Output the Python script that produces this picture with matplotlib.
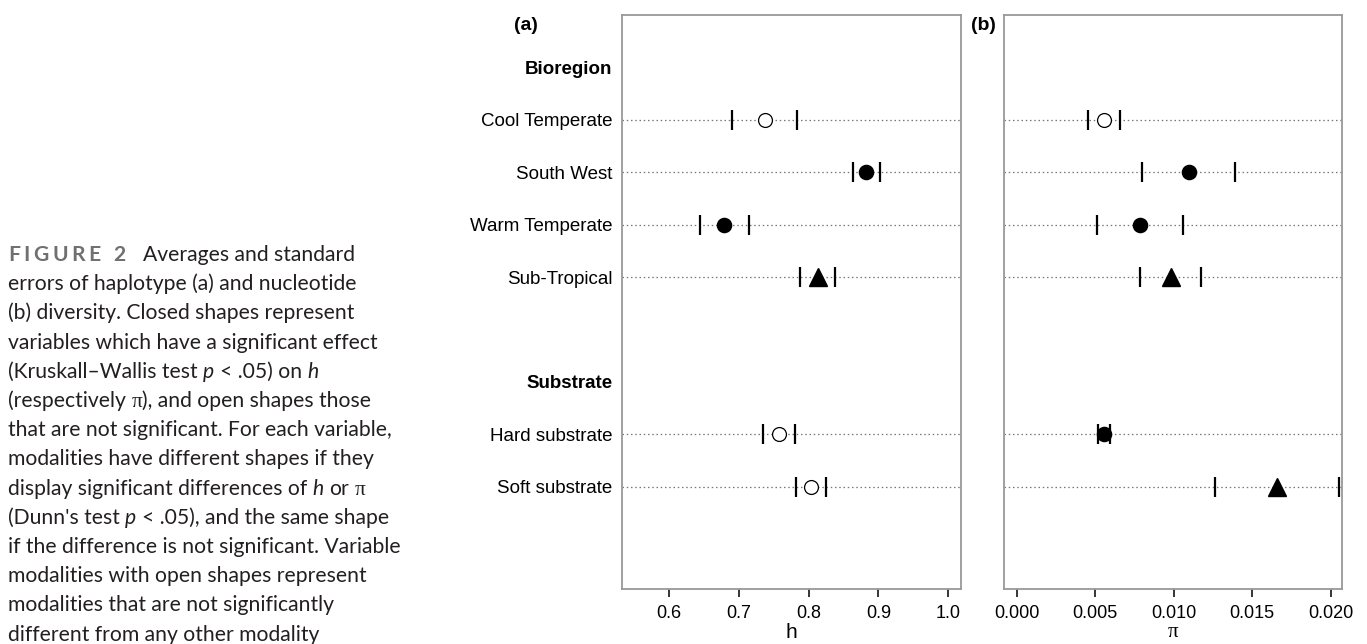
import numpy as np
import matplotlib
matplotlib.use("Agg")
import matplotlib.pyplot as plt

# rows (top to bottom)
row_labels = ["Bioregion", "Cool Temperate", "South West", "Warm Temperate", "Sub-Tropical",
              "Substrate", "Hard substrate", "Soft substrate"]
row_pos = [1, 2, 3, 4, 5, 7, 8, 9]
headers = ["Bioregion", "Substrate"]
mods = ["Cool Temperate", "South West", "Warm Temperate", "Sub-Tropical",
        "Hard substrate", "Soft substrate"]
mod_pos = [2, 3, 4, 5, 8, 9]

# haplotype diversity h: mean, lower, upper
h_mean = [0.737, 0.882, 0.679, 0.813, 0.758, 0.803]
h_low = [0.690, 0.863, 0.645, 0.788, 0.735, 0.782]
h_high = [0.783, 0.902, 0.714, 0.838, 0.780, 0.825]
h_shape = ["open", "fill", "fill", "tri", "open", "open"]

# nucleotide diversity pi
pi_mean = [0.00556, 0.01095, 0.00788, 0.00981, 0.00554, 0.01656]
pi_low = [0.00454, 0.00798, 0.00514, 0.00785, 0.00516, 0.01265]
pi_high = [0.00656, 0.01392, 0.01057, 0.01174, 0.00594, 0.02051]
pi_shape = ["open", "fill", "fill", "tri", "fill", "tri"]

h_ticks = [0.6, 0.7, 0.8, 0.9, 1.0]
pi_ticks = [0.000, 0.005, 0.010, 0.015, 0.020]

W, H = 1367, 644
fig = plt.figure(figsize=(W / 100, H / 100), dpi=100)
font = "Liberation Sans"

ax1 = fig.add_axes([622 / W, 1 - 589 / H, 338.7 / W, 574 / H])
ax2 = fig.add_axes([1004.3 / W, 1 - 589 / H, 338 / W, 574 / H])


def panel(ax, mean, low, high, shape, xlim, ticks, ticklabels, xlabel, xfont):
    for y in mod_pos:
        ax.axhline(y, color="#777777", lw=0.9, ls=(0, (1.2, 2.2)), zorder=1)
    for m, lo, hi, s, y in zip(mean, low, high, shape, mod_pos):
        ax.plot([lo, hi], [y, y], ls="none", marker="|", ms=14, mew=1.6,
                color="black", zorder=2)
        if s == "open":
            ax.plot(m, y, "o", ms=10, mfc="white", mec="black", mew=0.9, zorder=3)
        elif s == "fill":
            ax.plot(m, y, "o", ms=10.2, mfc="black", mec="black", zorder=3)
        else:
            ax.plot(m, y, "^", ms=12.5, mfc="black", mec="black", zorder=3)
    ax.set_xlim(*xlim)
    ax.set_ylim(10.95, 0)
    ax.set_xticks(ticks)
    ax.set_xticklabels(ticklabels, fontsize=13, family=font)
    ax.tick_params(axis="x", length=5.5, width=1.1, pad=6, color="black")
    ax.set_xlabel(xlabel, fontsize=15, family=xfont, labelpad=1)
    for sp in ax.spines.values():
        sp.set_color("#999999")
        sp.set_linewidth(1.3)


panel(ax1, h_mean, h_low, h_high, h_shape, (0.5327, 1.0178), h_ticks,
      ["%.1f" % t for t in h_ticks], "h", font)
panel(ax2, pi_mean, pi_low, pi_high, pi_shape, (-0.00079, 0.02074), pi_ticks,
      ["%.3f" % t for t in pi_ticks], "π", "Liberation Serif")

ax1.set_yticks(row_pos)
ax1.set_yticklabels(row_labels, fontsize=13.5, family=font)
for lab in ax1.get_yticklabels():
    if lab.get_text() in headers:
        lab.set_fontweight("bold")
ax1.tick_params(axis="y", length=0, pad=7)
ax2.set_yticks([])

fig.text(525.5 / W, 1 - 25 / H, "(a)", fontsize=14, fontweight="bold",
         family=font, ha="center", va="center")
fig.text(983 / W, 1 - 25 / H, "(b)", fontsize=14, fontweight="bold",
         family=font, ha="center", va="center")

# caption
renderer = fig.canvas.get_renderer()
cap_size = 15.2
cap_col = "#231f20"
base = dict(fontsize=cap_size, family=["Lato", "DejaVu Sans"], color=cap_col, va="baseline")
ital = dict(base, style="italic")
pis = dict(base, family=["Liberation Serif"])


def width_of(s, style):
    t = fig.text(0, 0, s, **style)
    w = t.get_window_extent(renderer).width
    t.remove()
    return w


space_w = width_of("x x", base) - width_of("xx", base)


def draw_line(x, y, segments):
    for s, st in segments:
        if s == " ":
            x += space_w
            continue
        t = fig.text(x / W, 1 - y / H, s, **st)
        x += t.get_window_extent(renderer).width


S = (" ", None)
x0 = 8
lines = [
    [("errors of haplotype (a) and nucleotide", base)],
    [("(b) diversity. Closed shapes represent", base)],
    [("variables which have a significant effect", base)],
    [("(Kruskall–Wallis test", base), S, ("p", ital), S, ("< .05) on", base), S, ("h", ital)],
    [("(respectively", base), S, ("π", pis), ("), and open shapes those", base)],
    [("that are not significant. For each variable,", base)],
    [("modalities have different shapes if they", base)],
    [("display significant differences of", base), S, ("h", ital), S, ("or", base), S, ("π", pis)],
    [("(Dunn's test", base), S, ("p", ital), S, ("< .05), and the same shape", base)],
    [("if the difference is not significant. Variable", base)],
    [("modalities with open shapes represent", base)],
    [("modalities that are not significantly", base)],
    [("different from any other modality", base)],
]

# first line: letter-spaced "FIGURE 2"
y_first = 261
fig_style = dict(base, color="#707070", fontweight="bold", family=["Lato"])
x = x0
for ch in "FIGURE 2":
    if ch == " ":
        x += space_w + 3.3
        continue
    t = fig.text(x / W, 1 - y_first / H, ch, **fig_style)
    x += t.get_window_extent(renderer).width + 3.5
draw_line(143, y_first, [("Averages and standard", base)])

for i, segs in enumerate(lines):
    draw_line(x0, y_first + (i + 1) * 29.2, segs)

fig.savefig("out.png", dpi=100)
